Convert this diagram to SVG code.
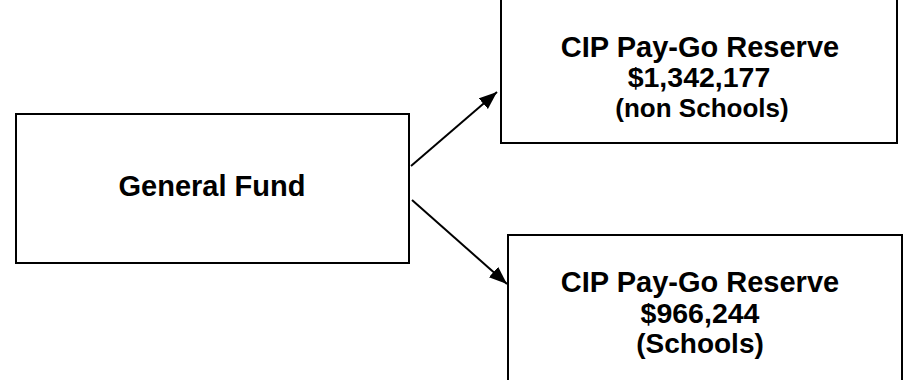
<svg xmlns="http://www.w3.org/2000/svg" width="905" height="380" viewBox="0 0 905 380">
<style>
.box{fill:#fff;stroke:#000;stroke-width:2}
.t{font-family:"Liberation Sans",Arial,sans-serif;font-weight:bold;fill:#000;text-anchor:middle}
.c{stroke:#000;stroke-width:2;fill:none;marker-end:url(#ah)}
</style>
<defs>
<marker id="ah" markerUnits="userSpaceOnUse" markerWidth="20" markerHeight="16" refX="18" refY="7" orient="auto">
<path d="M0,0 L18,7 L0,14 Z" fill="#000"/>
</marker>
</defs>
<rect width="905" height="380" fill="#fff"/>
<g id="general-fund">
<rect class="box" x="16" y="114" width="393" height="149"/>
<text class="t" x="212" y="196" font-size="29">General Fund</text>
</g>
<g id="reserve-non-schools">
<rect class="box" x="501" y="-2" width="396" height="145"/>
<text class="t" x="700" y="57" font-size="29">CIP Pay-Go Reserve</text>
<text class="t" x="699" y="87" font-size="28.5">$1,342,177</text>
<text class="t" x="702" y="117" font-size="26">(non Schools)</text>
</g>
<g id="reserve-schools">
<rect class="box" x="508" y="235" width="394" height="160"/>
<text class="t" x="700" y="292" font-size="29">CIP Pay-Go Reserve</text>
<text class="t" x="700" y="323" font-size="28.5">$966,244</text>
<text class="t" x="700" y="353" font-size="28">(Schools)</text>
</g>
<g id="connectors">
<line class="c" x1="411" y1="166" x2="497" y2="92"/>
<line class="c" x1="412" y1="200" x2="507" y2="284"/>
</g>
</svg>
